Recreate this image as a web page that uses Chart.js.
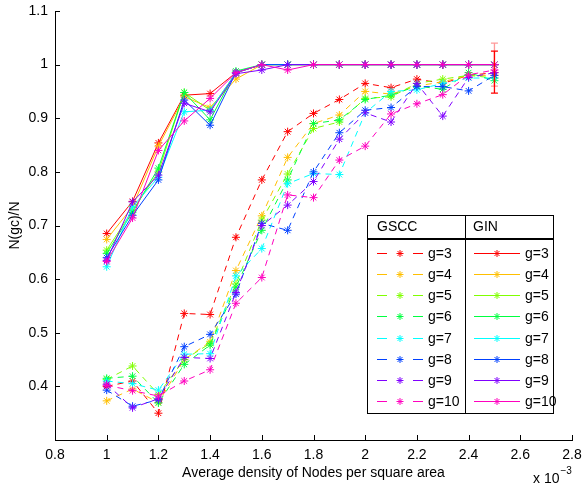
<!DOCTYPE html>
<html>
<head>
<meta charset="utf-8">
<script src="https://cdn.jsdelivr.net/npm/chart.js@4/dist/chart.umd.min.js"></script>
<style>
  html, body { margin: 0; padding: 0; background: #ffffff; }
  canvas { display: block; }
</style>
</head>
<body>
<canvas id="chart" width="585" height="484"></canvas>
<script>
// Average density of nodes per square area (x 10^-3)
const density = [1.0, 1.1, 1.2, 1.3, 1.4, 1.5, 1.6, 1.7, 1.8, 1.9, 2.0, 2.1, 2.2, 2.3, 2.4, 2.5];

const groupLabels = ['g=3', 'g=4', 'g=5', 'g=6', 'g=7', 'g=8', 'g=9', 'g=10'];
const groupColors = ['#ff0000', '#ffbf00', '#80ff00', '#00ff40', '#00ffff', '#0040ff', '#8000ff', '#ff00bf'];

// GSCC fraction N(gc)/N per group size
const gsccG3  = [0.400, 0.410, 0.350, 0.536, 0.534, 0.678, 0.785, 0.875, 0.909, 0.935, 0.965, 0.957, 0.973, 0.965, 0.980, 0.985];
const gsccG4  = [0.373, 0.395, 0.370, 0.450, 0.483, 0.616, 0.718, 0.827, 0.890, 0.906, 0.950, 0.945, 0.960, 0.968, 0.980, 0.980];
const gsccG5  = [0.413, 0.438, 0.385, 0.450, 0.480, 0.591, 0.710, 0.796, 0.881, 0.893, 0.937, 0.940, 0.965, 0.973, 0.980, 0.975];
const gsccG6  = [0.415, 0.419, 0.369, 0.441, 0.477, 0.585, 0.691, 0.785, 0.890, 0.897, 0.935, 0.943, 0.960, 0.954, 0.985, 0.970];
const gsccG7  = [0.410, 0.405, 0.393, 0.460, 0.461, 0.606, 0.657, 0.778, 0.797, 0.795, 0.910, 0.950, 0.953, 0.965, 0.975, 0.975];
const gsccG8  = [0.393, 0.363, 0.375, 0.474, 0.497, 0.572, 0.704, 0.691, 0.800, 0.873, 0.915, 0.920, 0.959, 0.959, 0.951, 0.980];
const gsccG9  = [0.404, 0.360, 0.377, 0.454, 0.452, 0.575, 0.700, 0.738, 0.782, 0.861, 0.910, 0.893, 0.965, 0.904, 0.976, 0.985];
const gsccG10 = [0.402, 0.392, 0.382, 0.410, 0.431, 0.555, 0.603, 0.757, 0.752, 0.822, 0.848, 0.908, 0.927, 0.944, 0.981, 0.990];

// GIN fraction N(gc)/N per group size
const ginG3  = [0.685, 0.745, 0.854, 0.943, 0.946, 0.985, 1.000, 1.000, 1.000, 1.000, 1.000, 1.000, 1.000, 1.000, 1.000, 1.000];
const ginG4  = [0.674, 0.735, 0.848, 0.940, 0.920, 0.973, 1.000, 1.000, 1.000, 1.000, 1.000, 1.000, 1.000, 1.000, 1.000, 1.000];
const ginG5  = [0.654, 0.728, 0.800, 0.948, 0.915, 0.985, 1.000, 1.000, 1.000, 1.000, 1.000, 1.000, 1.000, 1.000, 1.000, 1.000];
const ginG6  = [0.648, 0.725, 0.807, 0.948, 0.897, 0.988, 1.000, 1.000, 1.000, 1.000, 1.000, 1.000, 1.000, 1.000, 1.000, 1.000];
const ginG7  = [0.623, 0.735, 0.790, 0.912, 0.915, 0.985, 1.000, 1.000, 1.000, 1.000, 1.000, 1.000, 1.000, 1.000, 1.000, 1.000];
const ginG8  = [0.640, 0.719, 0.785, 0.934, 0.887, 0.985, 1.000, 1.000, 1.000, 1.000, 1.000, 1.000, 1.000, 1.000, 1.000, 1.000];
const ginG9  = [0.635, 0.744, 0.794, 0.928, 0.912, 0.983, 0.990, 1.000, 1.000, 1.000, 1.000, 1.000, 1.000, 1.000, 1.000, 1.000];
const ginG10 = [0.633, 0.714, 0.840, 0.895, 0.937, 0.985, 1.000, 0.990, 1.000, 1.000, 1.000, 1.000, 1.000, 1.000, 1.000, 1.000];

// Error bars at the highest density
const errX    = [2.5, 2.5];
const errMid  = [1.000, 0.986];
const errHalf = [0.040, 0.039];
const errColors = ['rgba(255,70,70,0.55)', '#ff0000'];

const xTicks = [0.8, 1.0, 1.2, 1.4, 1.6, 1.8, 2.0, 2.2, 2.4, 2.6, 2.8];
const yTicks = [0.4, 0.5, 0.6, 0.7, 0.8, 0.9, 1.0, 1.1];

const gsccSeries = [gsccG3, gsccG4, gsccG5, gsccG6, gsccG7, gsccG8, gsccG9, gsccG10];
const ginSeries  = [ginG3, ginG4, ginG5, ginG6, ginG7, ginG8, ginG9, ginG10];

const FONT = '"Liberation Sans", Arial, Helvetica, sans-serif';

function toPoints(values) {
  return values.map((v, i) => ({ x: density[i], y: v }));
}

const datasets = [];
let drawIndex = 0;
gsccSeries.forEach((vals, k) => {
  datasets.push({
    label: 'GSCC ' + groupLabels[k],
    data: toPoints(vals),
    borderColor: groupColors[k],
    backgroundColor: groupColors[k],
    borderWidth: 1,
    borderDash: [6, 5],
    pointStyle: 'star',
    pointRadius: 4,
    pointBorderWidth: 1,
    pointBorderColor: groupColors[k],
    fill: false,
    tension: 0,
    order: -(drawIndex++)
  });
});
ginSeries.forEach((vals, k) => {
  datasets.push({
    label: 'GIN ' + groupLabels[k],
    data: toPoints(vals),
    borderColor: groupColors[k],
    backgroundColor: groupColors[k],
    borderWidth: 1,
    pointStyle: 'star',
    pointRadius: 4,
    pointBorderWidth: 1,
    pointBorderColor: groupColors[k],
    fill: false,
    tension: 0,
    order: -(drawIndex++)
  });
});

function fmt(v) {
  return String(Number(v.toFixed(1)));
}

// Inward tick marks, axis titles, exponent label, error bars and the two-column legend
const decorations = {
  id: 'decorations',
  afterDatasetsDraw(chart) {
    const ctx = chart.ctx;
    const xs = chart.scales.x, ys = chart.scales.y;
    ctx.save();
    errX.forEach((xv, i) => {
      const px = xs.getPixelForValue(xv);
      const top = ys.getPixelForValue(errMid[i] + errHalf[i]);
      const bot = ys.getPixelForValue(errMid[i] - errHalf[i]);
      ctx.strokeStyle = errColors[i];
      ctx.lineWidth = 1.3;
      ctx.beginPath();
      ctx.moveTo(px, top); ctx.lineTo(px, bot);
      ctx.moveTo(px - 3.5, top); ctx.lineTo(px + 3.5, top);
      ctx.moveTo(px - 3.5, bot); ctx.lineTo(px + 3.5, bot);
      ctx.stroke();
    });
    ctx.restore();
  },
  afterDraw(chart) {
    const ctx = chart.ctx;
    const area = chart.chartArea;
    const xs = chart.scales.x, ys = chart.scales.y;
    ctx.save();

    // tick marks pointing into the plot
    ctx.strokeStyle = '#000';
    ctx.lineWidth = 1;
    ctx.beginPath();
    xTicks.forEach(v => {
      const px = Math.round(xs.getPixelForValue(v)) + 0.5;
      ctx.moveTo(px, area.bottom); ctx.lineTo(px, area.bottom - 5);
    });
    yTicks.forEach(v => {
      const py = Math.round(ys.getPixelForValue(v)) + 0.5;
      ctx.moveTo(area.left, py); ctx.lineTo(area.left + 5, py);
    });
    ctx.stroke();

    // axis titles
    ctx.fillStyle = '#000';
    ctx.font = '14px ' + FONT;
    ctx.textAlign = 'center';
    ctx.textBaseline = 'middle';
    ctx.fillText('Average density of Nodes per square area', (area.left + area.right) / 2, 473);
    ctx.save();
    ctx.translate(15, (area.top + area.bottom) / 2);
    ctx.rotate(-Math.PI / 2);
    ctx.fillText('N(gc)/N', 0, 0);
    ctx.restore();

    // exponent of the x axis
    ctx.textAlign = 'left';
    ctx.textBaseline = 'alphabetic';
    ctx.font = '14px ' + FONT;
    ctx.fillText('x 10', 533, 483);
    const w = ctx.measureText('x 10').width;
    ctx.font = '10px ' + FONT;
    ctx.fillText('\u22123', 533 + w + 1, 474);

    // legend table
    const L = 367, R = 553, M = 465, T = 215, H = 239, B = 413;
    ctx.fillStyle = '#fff';
    ctx.fillRect(L, T, R - L, B - T);
    ctx.strokeStyle = '#000';
    ctx.lineWidth = 1;
    ctx.strokeRect(L + 0.5, T + 0.5, R - L, H - T - 1);
    ctx.strokeRect(L + 0.5, H + 0.5, R - L, B - H);
    ctx.beginPath();
    ctx.moveTo(M + 0.5, T); ctx.lineTo(M + 0.5, B);
    ctx.stroke();

    ctx.fillStyle = '#000';
    ctx.font = '14px ' + FONT;
    ctx.textBaseline = 'middle';
    ctx.textAlign = 'left';
    ctx.fillText('GSCC', 377, 227.5);
    ctx.fillText('GIN', 473, 227.5);

    const rowTop = 253.3, rowStep = 21.06;
    groupLabels.forEach((lab, k) => {
      const y = Math.round(rowTop + k * rowStep) + 0.5;
      const col = groupColors[k];
      ctx.strokeStyle = col;
      ctx.lineWidth = 1;
      // dashed sample
      ctx.beginPath();
      ctx.moveTo(377, y); ctx.lineTo(387, y);
      ctx.moveTo(413, y); ctx.lineTo(423, y);
      ctx.stroke();
      drawStar(ctx, 400, y, 3.5, col);
      // solid sample
      ctx.beginPath();
      ctx.moveTo(474, y); ctx.lineTo(520, y);
      ctx.stroke();
      drawStar(ctx, 497, y, 3.5, col);
      ctx.fillStyle = '#000';
      ctx.fillText(lab, 428, y + 0.5);
      ctx.fillText(lab, 525, y + 0.5);
    });
    ctx.restore();
  }
};

function drawStar(ctx, x, y, r, col) {
  ctx.save();
  ctx.strokeStyle = col;
  ctx.lineWidth = 1;
  ctx.beginPath();
  const d = r * Math.SQRT1_2;
  ctx.moveTo(x - d, y - d); ctx.lineTo(x + d, y + d);
  ctx.moveTo(x - d, y + d); ctx.lineTo(x + d, y - d);
  ctx.moveTo(x, y - r); ctx.lineTo(x, y + r);
  ctx.moveTo(x - r, y); ctx.lineTo(x + r, y);
  ctx.stroke();
  ctx.restore();
}

new Chart(document.getElementById('chart'), {
  type: 'line',
  data: { datasets },
  options: {
    responsive: false,
    animation: false,
    devicePixelRatio: 1,
    layout: { padding: { top: 11, right: 13, left: 0, bottom: 0 } },
    plugins: {
      legend: { display: false },
      tooltip: { enabled: false },
      title: { display: false }
    },
    scales: {
      x: {
        type: 'linear',
        min: 0.8,
        max: 2.8,
        afterBuildTicks(scale) { scale.ticks = xTicks.map(v => ({ value: v })); },
        afterFit(scale) { scale.height = 44; },
        ticks: {
          callback: v => fmt(v),
          color: '#000',
          font: { family: FONT, size: 14, lineHeight: '25px' },
          padding: 3,
          maxRotation: 0,
          autoSkip: false
        },
        grid: { drawOnChartArea: false, drawTicks: false },
        border: { color: '#000', width: 1 }
      },
      y: {
        type: 'linear',
        min: 0.3,
        max: 1.1,
        afterBuildTicks(scale) { scale.ticks = yTicks.map(v => ({ value: v })); },
        afterFit(scale) { scale.width = 55; },
        ticks: {
          callback: v => fmt(v),
          color: '#000',
          font: { family: FONT, size: 14, lineHeight: '7.6px' },
          padding: 7,
          autoSkip: false
        },
        grid: { drawOnChartArea: false, drawTicks: false },
        border: { color: '#000', width: 1 }
      }
    }
  },
  plugins: [decorations]
});
</script>
</body>
</html>
